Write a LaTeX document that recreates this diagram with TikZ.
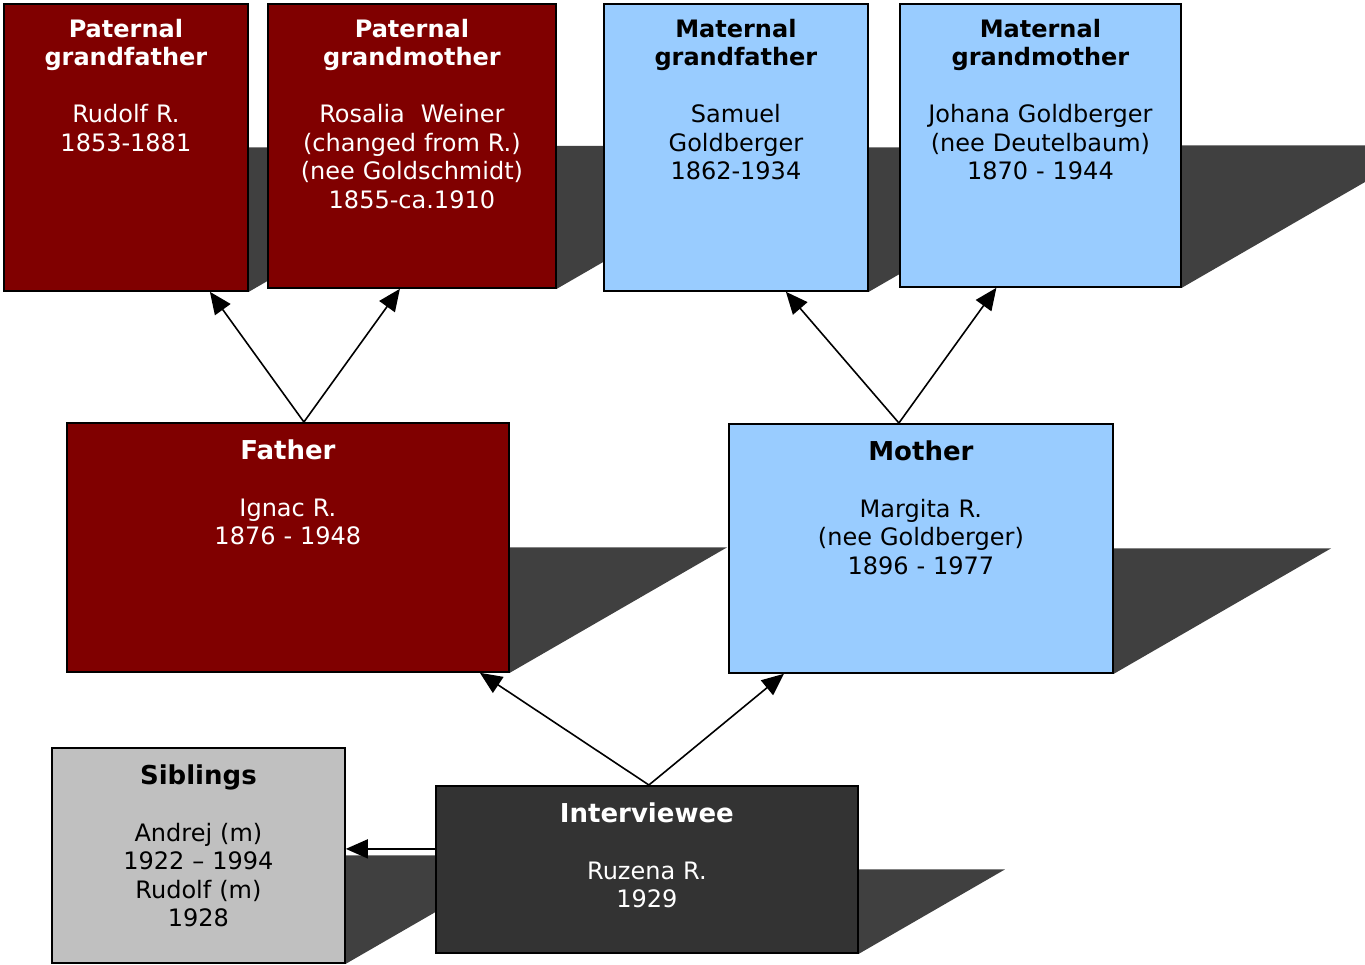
\documentclass[tikz,border=0pt]{standalone}
\usepackage{fontspec}
\setmainfont{DejaVu Sans}
\usepackage{xcolor}
\usetikzlibrary{arrows.meta,backgrounds,calc}

\definecolor{paternal}{HTML}{800000}
\definecolor{maternal}{HTML}{99CCFF}
\definecolor{sibgray}{HTML}{C0C0C0}
\definecolor{intergray}{HTML}{333333}
\definecolor{shadowgray}{HTML}{404040}

\newcommand{\headbig}[1]{\textbf{\fontsize{26}{28.5}\selectfont #1}}

\tikzset{
  person/.style={draw=black, line width=1.8pt, inner sep=0pt, anchor=north west,
    align=center, font=\fontsize{24}{28.5}\selectfont},
  gp/.style={person, text height=33.5pt},
  par/.style={person, text height=36.5pt},
  link/.style={->, line width=1.6pt}
}

\begin{document}
\begin{tikzpicture}[x=1pt, y=-1pt, >={Triangle[length=22pt,width=19pt]}]
\useasboundingbox (0,0) rectangle (1365,965);

%--- Grandparents ---
\node[gp, fill=paternal, text=white, text width=244pt, text depth=253.5pt] (pgf) at (3,3)
  {\textbf{Paternal\\grandfather}\\[28.5pt]Rudolf R.\\1853-1881};
\node[gp, fill=paternal, text=white, text width=288pt, text depth=250.5pt] (pgm) at (267,3)
  {\textbf{Paternal\\grandmother}\\[28.5pt]Rosalia\ \ Weiner\\(changed from R.)\\(nee Goldschmidt)\\1855-ca.1910};
\node[gp, fill=maternal, text width=264pt, text depth=253.5pt] (mgf) at (603,3)
  {\textbf{Maternal\\grandfather}\\[28.5pt]Samuel\\Goldberger\\1862-1934};
\node[gp, fill=maternal, text width=281pt, text depth=249.5pt] (mgm) at (899,3)
  {\textbf{Maternal\\grandmother}\\[28.5pt]Johana Goldberger\\(nee Deutelbaum)\\1870 - 1944};

%--- Parents ---
\node[par, fill=paternal, text=white, text width=442pt, text depth=212.5pt] (father) at (66,422)
  {\headbig{Father}\\[28.5pt]Ignac R.\\1876 - 1948};
\node[par, fill=maternal, text width=384pt, text depth=212.5pt] (mother) at (728,423)
  {\headbig{Mother}\\[28.5pt]Margita R.\\(nee Goldberger)\\1896 - 1977};

%--- Interviewee and siblings ---
\node[par, fill=sibgray, text width=293pt, text depth=178.5pt] (sibs) at (51,747)
  {\headbig{Siblings}\\[28.5pt]Andrej (m)\\1922 – 1994\\Rudolf (m)\\1928};
\node[par, fill=intergray, text=white, text width=422pt, text depth=130.5pt] (inter) at (435,785)
  {\headbig{Interviewee}\\[28.5pt]Ruzena R.\\1929};

% Shadows behind the boxes
\begin{scope}[on background layer]
  \foreach \b in {pgf,pgm,mgf,mgm,father,mother,sibs,inter} {
    \fill[shadowgray] let \p1=($(\b.east)-(\b.south east)$) in
      (\b.east) -- ++({1.732*\y1},0pt) -- (\b.south east) -- cycle;
  }
\end{scope}

% Links to parents
\draw[link] ([xshift=16pt]father.north) -- ([xshift=84pt]pgf.south);
\draw[link] ([xshift=16pt]father.north) -- ([xshift=-12pt]pgm.south);
\draw[link] ([xshift=-22pt]mother.north) -- ([xshift=50pt]mgf.south);
\draw[link] ([xshift=-22pt]mother.north) -- ([xshift=-44pt]mgm.south);
\draw[link] ([xshift=2pt]inter.north) -- ([xshift=192pt]father.south);
\draw[link] ([xshift=2pt]inter.north) -- ([xshift=-137pt]mother.south);
\draw[link] ([yshift=20.5pt]inter.west) -- ([yshift=20.5pt]inter.west -| sibs.east);
\end{tikzpicture}
\end{document}
